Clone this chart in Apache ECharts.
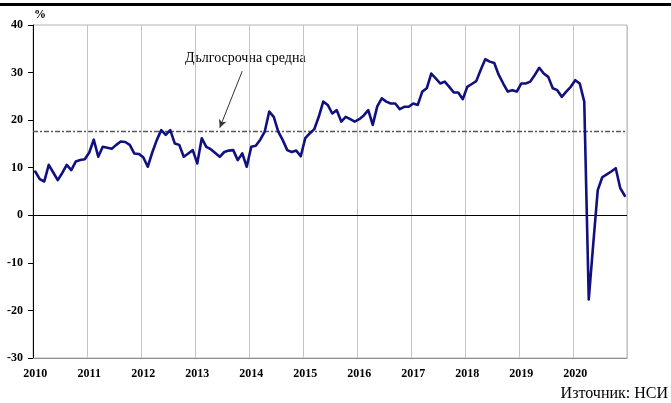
<!DOCTYPE html>
<html>
<head>
<meta charset="utf-8">
<script src="https://cdn.jsdelivr.net/npm/echarts@6/dist/echarts.min.js"></script>
<style>
  html, body { margin: 0; padding: 0; background: #fff; }
  #chart { width: 671px; height: 403px; }
</style>
</head>
<body>
<div id="chart"></div>
<script>
// месечни стойности, %
var years = ['2010', '2011', '2012', '2013', '2014', '2015', '2016', '2017', '2018', '2019', '2020'];
var months = ['01', '02', '03', '04', '05', '06', '07', '08', '09', '10', '11', '12'];

var v2010 = [9.2, 7.6, 7.1, 10.6, 9.0, 7.4, 8.9, 10.6, 9.5, 11.3, 11.6, 11.8];
var v2011 = [13.2, 15.9, 12.3, 14.4, 14.2, 14.0, 14.8, 15.5, 15.4, 14.8, 13.0, 12.9];
var v2012 = [12.2, 10.2, 13.2, 15.8, 17.9, 16.9, 17.9, 15.1, 14.8, 12.3, 13.0, 13.7];
var v2013 = [10.9, 16.2, 14.4, 13.9, 13.1, 12.3, 13.3, 13.6, 13.7, 11.6, 13.0, 10.2];
var v2014 = [14.4, 14.6, 15.9, 17.6, 21.8, 20.7, 17.6, 15.8, 13.7, 13.3, 13.6, 12.4];
var v2015 = [16.2, 17.2, 18.1, 20.7, 23.9, 23.2, 21.4, 22.1, 19.7, 20.7, 20.2, 19.7];
var v2016 = [20.2, 21.0, 22.1, 19.0, 22.9, 24.6, 23.9, 23.5, 23.5, 22.3, 22.8, 22.8];
var v2017 = [23.5, 23.2, 26.0, 26.7, 29.8, 28.8, 27.7, 28.1, 27.0, 25.8, 25.8, 24.4];
var v2018 = [27.0, 27.6, 28.2, 30.6, 32.8, 32.3, 32.0, 29.5, 27.7, 26.0, 26.3, 26.0];
var v2019 = [27.7, 27.7, 28.1, 29.5, 31.0, 29.8, 29.1, 26.7, 26.3, 24.9, 26.0, 27.0];
var v2020 = [28.4, 27.7, 23.9, -17.7, -6.0, 5.3, 8.0, 8.6, 9.2, 9.9, 5.7, 4.1];

var longTermAvg = 17.7;
var yTicks = [-30, -20, -10, 0, 10, 20, 30, 40];

var categories = [];
years.forEach(function (y) {
  months.forEach(function (m) { categories.push(y + '-' + m); });
});
var values = [].concat(v2010, v2011, v2012, v2013, v2014, v2015, v2016, v2017, v2018, v2019, v2020);

var chart = echarts.init(document.getElementById('chart'));
var serif = '"Liberation Serif", "DejaVu Serif", serif';

chart.setOption({
  animation: false,
  backgroundColor: '#fff',
  grid: {
    left: 33, right: 44, top: 25, bottom: 45,
    show: true, borderColor: '#b4b4b4', borderWidth: 1
  },
  xAxis: {
    type: 'category',
    data: categories,
    boundaryGap: true,
    axisLine: { onZero: false, lineStyle: { color: '#909090', width: 1 } },
    axisTick: { show: false },
    axisLabel: {
      interval: 11,
      margin: 10,
      color: '#000',
      fontFamily: serif,
      fontWeight: 'bold',
      fontSize: 12,
      formatter: function (v) { return v.slice(0, 4); }
    },
    splitLine: { show: true, interval: 11, lineStyle: { color: '#c4c4c4', width: 1 } }
  },
  yAxis: {
    type: 'value',
    min: yTicks[0],
    max: yTicks[yTicks.length - 1],
    interval: 10,
    axisLine: { show: true, lineStyle: { color: '#000', width: 1 } },
    axisTick: { show: true, inside: false, length: 5, lineStyle: { color: '#000' } },
    axisLabel: { color: '#000', fontFamily: serif, fontWeight: 'bold', fontSize: 12, margin: 10 },
    splitLine: { show: false }
  },
  series: [{
    type: 'line',
    data: values,
    showSymbol: false,
    symbol: 'none',
    lineStyle: { color: '#10107f', width: 2.6, join: 'round', cap: 'round' },
    z: 5,
    markLine: {
      silent: true,
      symbol: ['none', 'none'],
      label: { show: false },
      data: [
        { yAxis: longTermAvg, lineStyle: { color: '#5a5a5a', width: 1.3, type: [5, 2, 2, 2] } },
        { yAxis: 0, lineStyle: { color: '#000', width: 1, type: 'solid' } },
        [
          { coord: [46, 30.3], symbol: 'none' },
          { coord: [41, 18.4], symbol: 'arrow', symbolSize: [6, 8] }
        ]
      ],
      lineStyle: { color: '#333', width: 1, type: 'solid' }
    }
  }],
  graphic: [
    { type: 'rect', left: 0, top: 3, shape: { width: 671, height: 3 }, style: { fill: '#000' } },
    { type: 'text', left: 34, top: 9, style: { text: '%', fill: '#000', font: 'bold 12px ' + serif } },
    { type: 'text', left: 185, top: 51, style: { text: 'Дългосрочна средна', fill: '#000', font: '14px ' + serif } },
    { type: 'text', right: 3, top: 386, style: { text: 'Източник: НСИ', fill: '#000', font: '16px ' + serif } }
  ]
});
</script>
</body>
</html>
